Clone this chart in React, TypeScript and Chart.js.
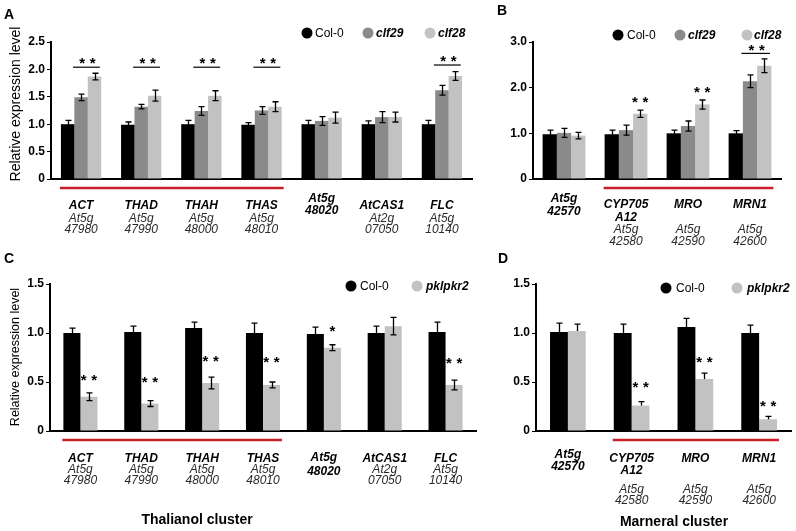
import React, { useEffect, useRef } from 'react';
import { Chart, registerables } from 'chart.js';

Chart.register(...registerables);

const FONT = '"Liberation Sans", Arial, Helvetica, sans-serif';
const BLACK = '#000000';
const MID = '#8a8a8a';
const LIGHT = '#c2c2c2';

// ---------------- Panel A (clf mutants, thalianol cluster) ----------------
const genesA = [['ACT'], ['THAD'], ['THAH'], ['THAS'], ['At5g', '48020'], ['AtCAS1'], ['FLC']];
const lociA = [['At5g', '47980'], ['At5g', '47990'], ['At5g', '48000'], ['At5g', '48010'], [], ['At2g', '07050'], ['At5g', '10140']];
const col0A = [1.0, 0.99, 1.0, 0.99, 1.0, 1.0, 1.0];
const col0ErrA = [0.07, 0.05, 0.07, 0.04, 0.07, 0.06, 0.07];
const clf29A = [1.49, 1.32, 1.24, 1.25, 1.06, 1.13, 1.62];
const clf29ErrA = [0.06, 0.04, 0.08, 0.07, 0.08, 0.1, 0.09];
const clf28A = [1.87, 1.52, 1.52, 1.32, 1.12, 1.13, 1.88];
const clf28ErrA = [0.06, 0.1, 0.09, 0.09, 0.1, 0.09, 0.08];
const starsA = ['**', '**', '**', '**', '', '', '**'];
const starYA = [2.17, 2.17, 2.17, 2.17, null, null, 2.2];
const sigLineA = [2.04, 2.04, 2.04, 2.04, null, null, 2.08];
const yTicksA = { max: 2.5, step: 0.5 };

// ---------------- Panel B (clf mutants, marneral cluster) ----------------
const genesB = [['At5g', '42570'], ['CYP705', 'A12'], ['MRO'], ['MRN1']];
const lociB = [[], ['At5g', '42580'], ['At5g', '42590'], ['At5g', '42600']];
const col0B = [0.98, 0.98, 1.0, 1.0];
const col0ErrB = [0.09, 0.09, 0.07, 0.06];
const clf29B = [1.01, 1.07, 1.16, 2.14];
const clf29ErrB = [0.1, 0.11, 0.11, 0.14];
const clf28B = [0.95, 1.43, 1.63, 2.48];
const clf28ErrB = [0.07, 0.08, 0.1, 0.15];
const starsB = ['', '**', '**', '**'];
const starYB = [null, 1.76, 1.98, 2.9];
const sigLineB = [null, null, null, 2.75];
const yTicksB = { max: 3.0, step: 1.0 };

// ---------------- Panel C (pkl/pkr2, thalianol cluster) ----------------
const col0C = [1.0, 1.01, 1.05, 1.0, 0.99, 1.0, 1.01];
const col0ErrC = [0.05, 0.06, 0.06, 0.1, 0.07, 0.07, 0.1];
const pklC = [0.35, 0.28, 0.49, 0.47, 0.85, 1.07, 0.47];
const pklErrC = [0.04, 0.03, 0.06, 0.03, 0.03, 0.09, 0.05];
const starsC = ['**', '**', '**', '**', '*', '', '**'];
const starYC = [0.55, 0.53, 0.74, 0.73, 1.05, null, 0.72];
const yTicksC = { max: 1.5, step: 0.5 };

// ---------------- Panel D (pkl/pkr2, marneral cluster) ----------------
const col0D = [1.01, 1.0, 1.06, 1.0];
const col0ErrD = [0.09, 0.09, 0.09, 0.08];
const pklD = [1.02, 0.26, 0.53, 0.12];
const pklErrD = [0.07, 0.04, 0.06, 0.03];
const starsD = ['', '**', '**', '**'];
const starYD = [null, 0.48, 0.73, 0.29];
const yTicksD = { max: 1.5, step: 0.5 };

type Series = { label: string; data: number[]; err: number[]; color: string; italic: boolean };
type LegendPos = { cx: number; cy: number; tx: number };
type PanelDef = {
  letter: string;
  letterPos: [number, number];
  box: [number, number, number, number];
  area: [number, number, number, number];
  yMax: number;
  yStep: number;
  cp: number;
  genes: string[][];
  loci: string[][];
  geneTop: number[];
  geneLH: number;
  lociTop: number;
  lociLH: number;
  series: Series[];
  stars: string[];
  starY: (number | null)[];
  sigLine: (number | null)[] | null;
  upOnly: boolean;
  redFrom: number;
  redTo: number;
  legend: LegendPos[];
  yTitle?: { x: number; y: number; size: number };
  cluster?: { text: string; x: number; y: number };
};

const panels: PanelDef[] = [
  {
    letter: 'A', letterPos: [4, 15],
    box: [0, 0, 490, 245], area: [51, 42, 472, 179],
    yMax: yTicksA.max, yStep: yTicksA.step, cp: 0.67,
    genes: genesA, loci: lociA,
    geneTop: [205.5, 205.5, 205.5, 205.5, 199, 205.5, 205.5], geneLH: 12, lociTop: 219, lociLH: 11,
    series: [
      { label: 'Col-0', data: col0A, err: col0ErrA, color: BLACK, italic: false },
      { label: 'clf29', data: clf29A, err: clf29ErrA, color: MID, italic: true },
      { label: 'clf28', data: clf28A, err: clf28ErrA, color: LIGHT, italic: true },
    ],
    stars: starsA, starY: starYA, sigLine: sigLineA, upOnly: false,
    redFrom: 0, redTo: 3,
    legend: [{ cx: 307, cy: 33, tx: 315 }, { cx: 368, cy: 33, tx: 376 }, { cx: 430, cy: 33, tx: 438 }],
    yTitle: { x: 16, y: 104, size: 14 },
  },
  {
    letter: 'B', letterPos: [497, 11],
    box: [490, 0, 306, 245], area: [533, 42, 781, 179],
    yMax: yTicksB.max, yStep: yTicksB.step, cp: 0.69,
    genes: genesB, loci: lociB,
    geneTop: [198.5, 204.5, 204.5, 204.5], geneLH: 13, lociTop: 230, lociLH: 12,
    series: [
      { label: 'Col-0', data: col0B, err: col0ErrB, color: BLACK, italic: false },
      { label: 'clf29', data: clf29B, err: clf29ErrB, color: MID, italic: true },
      { label: 'clf28', data: clf28B, err: clf28ErrB, color: LIGHT, italic: true },
    ],
    stars: starsB, starY: starYB, sigLine: sigLineB, upOnly: false,
    redFrom: 1, redTo: 3,
    legend: [{ cx: 618, cy: 35, tx: 627 }, { cx: 680, cy: 35, tx: 688 }, { cx: 747, cy: 35, tx: 754 }],
  },
  {
    letter: 'C', letterPos: [4, 259],
    box: [0, 245, 490, 286], area: [50, 284, 476, 431],
    yMax: yTicksC.max, yStep: yTicksC.step, cp: 0.56,
    genes: genesA, loci: lociA,
    geneTop: [458.5, 458.5, 458.5, 458.5, 457.5, 458.5, 458.5], geneLH: 14, lociTop: 470, lociLH: 11,
    series: [
      { label: 'Col-0', data: col0C, err: col0ErrC, color: BLACK, italic: false },
      { label: 'pklpkr2', data: pklC, err: pklErrC, color: LIGHT, italic: true },
    ],
    stars: starsC, starY: starYC, sigLine: null, upOnly: false,
    redFrom: 0, redTo: 3,
    legend: [{ cx: 351, cy: 286, tx: 360 }, { cx: 417, cy: 286, tx: 426 }],
    yTitle: { x: 16, y: 357, size: 12.5 },
    cluster: { text: 'Thalianol cluster', x: 197, y: 520 },
  },
  {
    letter: 'D', letterPos: [498, 259],
    box: [490, 245, 306, 286], area: [536, 284, 791, 431],
    yMax: yTicksD.max, yStep: yTicksD.step, cp: 0.56,
    genes: genesB, loci: lociB,
    geneTop: [454.5, 458.5, 458.5, 458.5], geneLH: 12, lociTop: 489.5, lociLH: 11.5,
    series: [
      { label: 'Col-0', data: col0D, err: col0ErrD, color: BLACK, italic: false },
      { label: 'pklpkr2', data: pklD, err: pklErrD, color: LIGHT, italic: true },
    ],
    stars: starsD, starY: starYD, sigLine: null, upOnly: true,
    redFrom: 1, redTo: 3,
    legend: [{ cx: 666, cy: 288, tx: 676 }, { cx: 737, cy: 288, tx: 747 }],
    cluster: { text: 'Marneral cluster', x: 674, y: 522 },
  },
];

function drawStars(ctx: CanvasRenderingContext2D, text: string, cx: number, cy: number) {
  ctx.font = `bold 15px ${FONT}`;
  ctx.textAlign = 'center';
  ctx.textBaseline = 'alphabetic';
  ctx.fillStyle = '#000';
  const n = text.length;
  for (let k = 0; k < n; k++) {
    const x = cx + (k - (n - 1) / 2) * 10.5;
    ctx.fillText('*', x, cy + 8);
  }
}

function makePlugin(p: PanelDef) {
  const ox = p.box[0];
  const oy = p.box[1];
  return {
    id: 'panelAnnot',
    afterDatasetsDraw(chart: any) {
      const ctx: CanvasRenderingContext2D = chart.ctx;
      const ys = chart.scales.y;
      ctx.save();
      // error bars
      ctx.strokeStyle = '#000';
      ctx.lineWidth = 1.3;
      p.series.forEach((s, di) => {
        const meta = chart.getDatasetMeta(di);
        meta.data.forEach((el: any, i: number) => {
          const v = s.data[i];
          const e = s.err[i];
          const x = Math.round(el.x) + 0.5;
          const yt = ys.getPixelForValue(v + e);
          const yb = ys.getPixelForValue(p.upOnly ? v : v - e);
          ctx.beginPath();
          ctx.moveTo(x, yt);
          ctx.lineTo(x, yb);
          ctx.moveTo(x - 3, yt);
          ctx.lineTo(x + 3, yt);
          if (!p.upOnly) {
            ctx.moveTo(x - 3, yb);
            ctx.lineTo(x + 3, yb);
          }
          ctx.stroke();
        });
      });
      // significance
      const nS = p.series.length;
      const lastMeta = chart.getDatasetMeta(nS - 1);
      const prevMeta = chart.getDatasetMeta(nS - 2);
      p.stars.forEach((st, i) => {
        if (!st) return;
        const last: any = lastMeta.data[i];
        let cx = last.x;
        const sl = p.sigLine ? p.sigLine[i] : null;
        if (sl !== null && sl !== undefined) {
          const prev: any = prevMeta.data[i];
          const x1 = prev.x - 0.6 * prev.width;
          const x2 = last.x + 0.4 * last.width;
          const ly = ys.getPixelForValue(sl);
          ctx.strokeStyle = '#000';
          ctx.lineWidth = 1.2;
          ctx.beginPath();
          ctx.moveTo(x1, ly);
          ctx.lineTo(x2, ly);
          ctx.stroke();
          cx = (x1 + x2) / 2 + 1;
        }
        const sy = p.starY[i];
        if (sy !== null) drawStars(ctx, st, cx, ys.getPixelForValue(sy));
      });
      ctx.restore();
    },
    afterDraw(chart: any) {
      const ctx: CanvasRenderingContext2D = chart.ctx;
      const xs = chart.scales.x;
      const area = chart.chartArea;
      ctx.save();
      // red cluster line
      const m0 = chart.getDatasetMeta(0);
      const mL = chart.getDatasetMeta(p.series.length - 1);
      const b0: any = m0.data[p.redFrom];
      const b1: any = mL.data[p.redTo];
      ctx.strokeStyle = '#c8202a';
      ctx.lineWidth = 2.5;
      ctx.beginPath();
      ctx.moveTo(b0.x - b0.width / 2 - 1, area.bottom + 9);
      ctx.lineTo(b1.x + b1.width / 2 + 2, area.bottom + 9);
      ctx.stroke();

      // category labels
      ctx.textAlign = 'center';
      ctx.textBaseline = 'middle';
      p.genes.forEach((lines, i) => {
        const cx = xs.getPixelForValue(i);
        ctx.font = `italic bold 12px ${FONT}`;
        ctx.fillStyle = '#000';
        lines.forEach((t, k) => ctx.fillText(t, cx, p.geneTop[i] - oy + k * p.geneLH));
        ctx.font = `italic 12px ${FONT}`;
        ctx.fillStyle = '#2a2a2a';
        p.loci[i].forEach((t, k) => ctx.fillText(t, cx, p.lociTop - oy + k * p.lociLH));
      });

      // legend
      p.series.forEach((s, i) => {
        const L = p.legend[i];
        ctx.fillStyle = s.color;
        ctx.beginPath();
        ctx.arc(L.cx - ox, L.cy - oy, 5.5, 0, Math.PI * 2);
        ctx.fill();
        ctx.fillStyle = '#000';
        ctx.textAlign = 'left';
        ctx.font = s.italic ? `italic bold 12px ${FONT}` : `12px ${FONT}`;
        ctx.fillText(s.label, L.tx - ox, L.cy - oy + 0.5);
      });

      // panel letter
      ctx.font = `bold 14px ${FONT}`;
      ctx.textAlign = 'left';
      ctx.fillStyle = '#000';
      ctx.fillText(p.letter, p.letterPos[0] - ox, p.letterPos[1] - oy);

      // y title
      if (p.yTitle) {
        ctx.save();
        ctx.translate(p.yTitle.x - ox, p.yTitle.y - oy);
        ctx.rotate(-Math.PI / 2);
        ctx.textAlign = 'center';
        ctx.font = `${p.yTitle.size}px ${FONT}`;
        ctx.fillText('Relative expression level', 0, 0);
        ctx.restore();
      }
      // cluster title
      if (p.cluster) {
        ctx.textAlign = 'center';
        ctx.font = `bold 14px ${FONT}`;
        ctx.fillText(p.cluster.text, p.cluster.x - ox, p.cluster.y - oy);
      }
      ctx.restore();
    },
  };
}

function Panel({ p }: { p: PanelDef }) {
  const ref = useRef<HTMLCanvasElement | null>(null);
  useEffect(() => {
    if (!ref.current) return;
    const [ox, oy, w, h] = p.box;
    const [l, t, r, b] = p.area;
    const chart = new Chart(ref.current, {
      type: 'bar',
      data: {
        labels: p.genes.map((g) => g.join(' ')),
        datasets: p.series.map((s) => ({
          label: s.label,
          data: s.data,
          backgroundColor: s.color,
          borderWidth: 0,
          barPercentage: 1,
          categoryPercentage: p.cp,
        })),
      },
      options: {
        responsive: false,
        animation: false,
        layout: { padding: { left: 0, top: t - oy, right: ox + w - r, bottom: oy + h - b } },
        plugins: { legend: { display: false }, tooltip: { enabled: false } },
        scales: {
          x: {
            type: 'category',
            offset: true,
            grid: { display: false, drawTicks: false },
            border: { display: true, color: '#000', width: 2 },
            ticks: { display: false },
            afterFit: (s: any) => { s.height = 0; },
          },
          y: {
            min: 0,
            max: p.yMax,
            grid: { display: true, drawOnChartArea: false, drawTicks: true, tickLength: 4, color: '#000', lineWidth: 1 },
            border: { display: true, color: '#000', width: 2 },
            ticks: {
              stepSize: p.yStep,
              padding: 2,
              color: '#000',
              font: { family: FONT, size: 12, weight: 'bold' },
              callback: (v: any) => (Number(v) === 0 ? '0' : Number(v).toFixed(1)),
            },
            afterFit: (s: any) => { s.width = l - ox; },
          },
        },
      } as any,
      plugins: [makePlugin(p)],
    });
    return () => chart.destroy();
  }, [p]);
  const [ox, oy, w, h] = p.box;
  return (
    <canvas
      ref={ref}
      width={w}
      height={h}
      style={{ position: 'absolute', left: ox, top: oy, width: w, height: h }}
    />
  );
}

export default function App() {
  return (
    <div style={{ position: 'fixed', left: 0, top: 0, width: 796, height: 531, background: '#fff', overflow: 'hidden' }}>
      {panels.map((p) => (
        <Panel key={p.letter} p={p} />
      ))}
    </div>
  );
}
